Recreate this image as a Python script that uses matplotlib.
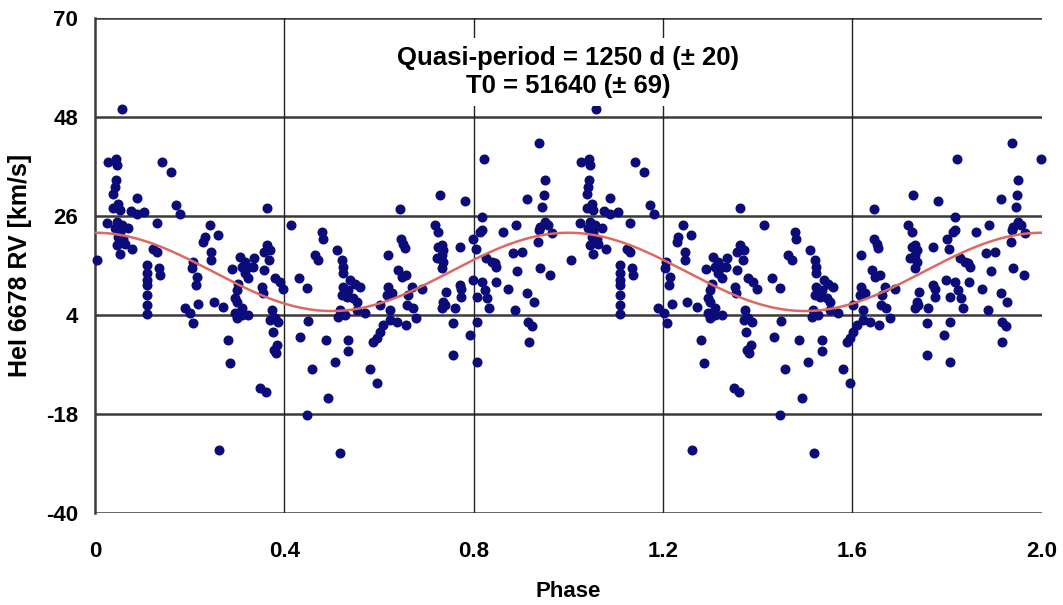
import numpy as np
import matplotlib
matplotlib.use("Agg")
import matplotlib.pyplot as plt

plt.rcParams['font.family'] = ['Liberation Sans', 'DejaVu Sans']
plt.rcParams['axes.unicode_minus'] = False

# 위상 0~1 구간의 관측값 (1~2 구간은 같은 값을 반복해서 그림)
phase = [0.005, 0.025, 0.027, 0.039, 0.039, 0.042, 0.042, 0.044, 0.044, 0.046,
         0.046, 0.046, 0.049, 0.049, 0.053, 0.053, 0.053, 0.056, 0.058, 0.060,
         0.063, 0.070, 0.076, 0.079, 0.088, 0.088, 0.104, 0.109, 0.110, 0.110,
         0.110, 0.110, 0.110, 0.110, 0.123, 0.130, 0.130, 0.135, 0.137, 0.141,
         0.160, 0.172, 0.180,
         0.190, 0.201, 0.204, 0.206, 0.208, 0.213, 0.215, 0.218, 0.229, 0.232,
         0.243, 0.246, 0.246, 0.251, 0.260, 0.262, 0.271, 0.281, 0.286, 0.290,
         0.296, 0.296, 0.299, 0.299, 0.299, 0.303, 0.306, 0.310, 0.310, 0.310,
         0.317, 0.317, 0.324, 0.324, 0.324, 0.334, 0.335, 0.352, 0.355, 0.349,
         0.361, 0.356, 0.356, 0.363, 0.363, 0.368, 0.370, 0.370, 0.373, 0.375,
         0.378, 0.382, 0.385, 0.380, 0.387, 0.380, 0.391, 0.398,
         0.413, 0.431, 0.434, 0.447, 0.447, 0.450, 0.458, 0.465, 0.472, 0.479,
         0.481, 0.488, 0.493, 0.511, 0.506, 0.518,
         0.521, 0.524, 0.523, 0.539, 0.549, 0.560, 0.524, 0.535, 0.521, 0.532,
         0.546, 0.553, 0.517, 0.553, 0.514, 0.528, 0.570, 0.535, 0.535,
         0.581, 0.588, 0.595, 0.595, 0.602, 0.602, 0.609, 0.616, 0.619, 0.619,
         0.623, 0.623, 0.627, 0.637, 0.641, 0.645, 0.646, 0.648, 0.651, 0.655,
         0.657, 0.658, 0.660, 0.662, 0.669, 0.671,
         0.679, 0.690, 0.718, 0.725, 0.729, 0.725, 0.732, 0.736, 0.722, 0.732,
         0.736, 0.732, 0.732, 0.736, 0.739, 0.741, 0.757, 0.757, 0.760, 0.770,
         0.771, 0.774, 0.774, 0.781, 0.793, 0.798, 0.799, 0.805, 0.806, 0.806,
         0.806, 0.813, 0.817, 0.817, 0.817, 0.822, 0.824, 0.827, 0.829, 0.833,
         0.838,
         0.845, 0.848, 0.847, 0.862, 0.873, 0.882, 0.887, 0.889, 0.892, 0.901,
         0.913, 0.913, 0.915, 0.917, 0.924, 0.927, 0.936, 0.938, 0.940, 0.945,
         0.948, 0.950, 0.950, 0.940, 0.957, 0.965, 0.938, 0.962]
rv = [16.2, 24.5, 38.1, 31.0, 27.7, 32.5, 23.3, 34.0, 38.8, 37.3,
      24.7, 19.6, 28.8, 21.4, 27.3, 22.5, 17.5, 24.0, 49.9, 21.0,
      19.9, 23.3, 27.2, 18.6, 30.1, 26.4, 27.0, 15.1, 13.3, 11.8,
      10.7, 8.4, 6.2, 4.2, 18.6, 18.1, 24.5, 14.4, 13.0, 38.1,
      35.9, 28.4, 26.4,
      5.5, 4.4, 14.4, 15.9, 2.2, 10.7, 12.5, 6.4, 20.3, 21.4,
      24.0, 18.1, 16.2, 6.8, 21.8, -26.0, 5.7, -1.6, -6.7, 14.2,
      7.7, 4.4, 9.6, 7.0, 3.3, 11.0, 17.0, 14.7, 5.5, 4.0,
      15.9, 13.3, 14.7, 12.2, 4.0, 14.7, 16.6, 10.3, 8.8, -12.2,
      -13.0, 18.1, 14.0, 19.6, 27.9, 16.2, 18.4, 2.9, 5.1, 0.3,
      -3.8, -4.5, -2.7, 3.3, 2.5, 12.2, 11.4, 9.9,
      24.0, 12.2, -0.8, 10.1, -18.2, 2.7, -8.0, 17.3, 16.2, 22.5,
      21.0, -1.6, -14.5, 18.5, -6.4, -26.7,
      16.2, 14.7, 13.3, 11.8, 11.0, 10.3, 10.3, 9.6, 8.4, 8.1,
      7.7, 7.0, 5.1, 5.1, 3.6, 4.0, 4.4, -1.6, -4.0,
      -8.0, -1.9, -1.2, -11.0, 0.3, 6.2, 1.8, 8.4, 10.3, 17.3,
      5.1, 2.9, 8.8, 2.5, 14.0, 27.6, 21.0, 12.5, 19.9, 18.8,
      1.8, 12.9, 6.2, 8.4, 10.3, 5.5,
      3.3, 9.9, 24.0, 22.5, 30.7, 19.2, 19.6, 18.4, 16.6, 17.3,
      15.9, 14.4, 5.5, 7.0, 6.2, 9.2, 2.2, -4.9, 5.5, 19.2,
      10.7, 9.9, 8.1, 29.3, -0.4, 11.8, 21.0, 18.7, 8.1, 2.5,
      -6.4, 22.5, 22.9, 25.8, 11.4, 38.8, 9.6, 16.6, 7.7, 5.5,
      15.9,
      15.5, 14.7, 11.4, 22.4, 9.9, 17.7, 5.1, 24.0, 13.8, 18.1,
      29.8, 9.0, 2.5, -1.9, 1.6, 6.8, 20.3, 42.2, 14.5, 28.1,
      30.8, 34.0, 24.7, 23.6, 24.0, 22.2, 22.9, 13.0]

# 두 번째 주기 끝(위상 2.0)에만 찍힌 점
extra_phase = [1.998]
extra_rv = [38.8]

# 사인 곡선 맞춤 값
fit_mean = 13.6
fit_amp = 8.7
fit_peak = 0.0

yticks = [-40, -18, 4, 26, 48, 70]
xticks = [0, 0.4, 0.8, 1.2, 1.6, 2.0]
xtick_labels = ["0", "0.4", "0.8", "1.2", "1.6", "2.0"]

ph = np.array(phase)
x_all = np.concatenate([ph, ph + 1, extra_phase])
y_all = np.concatenate([rv, rv, extra_rv])

fig = plt.figure(figsize=(10.63, 6.05), dpi=100)
ax = fig.add_axes([0.0894, 0.152, 0.8906, 0.818])

# 격자
for yv in yticks:
    ax.axhline(yv, color="#3a3a3a", lw=1.8, zorder=1)
for xv in xticks[1:-1]:
    ax.axvline(xv, color="#222222", lw=1.0, zorder=1)

ax.plot(x_all, y_all, "o", color="#0b0b7a", ms=6.2, mec="#0b0b7a", zorder=3, clip_on=False)

xs = np.linspace(0, 2, 400)
ax.plot(xs, fit_mean + fit_amp * np.cos(2 * np.pi * (xs - fit_peak)),
        color="#dc6a62", lw=1.8, zorder=4)

ax.set_xlim(0, 2.0)
ax.set_ylim(-40, 70)
ax.set_xticks(xticks)
ax.set_xticklabels(xtick_labels)
ax.set_yticks(yticks)
for s in ["top", "right", "bottom"]:
    ax.spines[s].set_visible(False)
ax.spines["left"].set_color("#3a3a3a")
ax.spines["left"].set_linewidth(1.8)
ax.tick_params(length=0, labelsize=16)
ax.tick_params(axis="x", pad=20)
ax.tick_params(axis="y", pad=12)
for lab in ax.get_xticklabels() + ax.get_yticklabels():
    lab.set_fontweight("bold")

ax.set_xlabel("Phase", fontsize=16, fontweight="bold", labelpad=14)
ax.set_ylabel("HeI 6678 RV [km/s]", fontsize=18, fontweight="bold", labelpad=10)

ax.text(1.0, 58.0, "Quasi-period = 1250 d (± 20)\nT0 = 51640 (± 69)",
        ha="center", va="center", fontsize=18.5, fontweight="bold",
        linespacing=1.2, zorder=5,
        bbox=dict(facecolor="white", edgecolor="none", pad=6))

fig.savefig("out.png", dpi=100)
